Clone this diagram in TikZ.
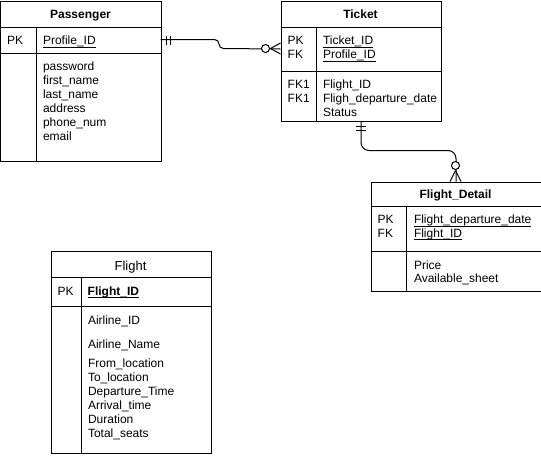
\documentclass[tikz,border=0pt]{standalone}
\usepackage{fontspec}
\setmainfont{Liberation Sans}
\usetikzlibrary{calc}
\newsavebox\ulbox
\newcommand\myul[1]{\sbox\ulbox{#1}\rlap{\usebox\ulbox}\vrule height -1.9pt depth 2.8pt width \wd\ulbox}
\begin{document}
\begin{tikzpicture}[x=1pt,y=-1pt,line width=1pt,
  box/.style={draw,inner sep=0pt,anchor=north west},
  txt/.style={anchor=base west,inner sep=0pt,font=\fontsize{12}{14}\selectfont},
  ttl/.style={anchor=base,inner sep=0pt,font=\fontsize{12}{14}\selectfont\bfseries},
  ttlplain/.style={anchor=base,inner sep=0pt,font=\fontsize{13}{15}\selectfont},
  conn/.style={draw,line width=1pt},
  tickline/.style={line width=1pt},
  ring/.style={draw,fill=white,line width=1pt}]
\useasboundingbox (-0.5,-0.5) rectangle (540.5,455.5);

% ---------- Passenger ----------
\node[box,minimum width=160pt,minimum height=160pt] (P) at (0,0) {};
\node[box,minimum width=160pt,minimum height=26pt] (Pkey) at (0,26) {};
\draw (36,26) -- (36,160);
\node[ttl] (Pt) at (80,18.3) {Passenger};
\node[txt] (Ppk) at (6,44.3) {PK};
\node[txt] (Pid) at (42,44.3) {\myul{Profile\_ID}};
\foreach \t [count=\i] in {password,first\_name,last\_name,address,phone\_num,email}
  \node[txt] (Pa\i) at (42,56+14*\i) {\t};

% ---------- Ticket ----------
\node[box,minimum width=160pt,minimum height=120pt] (T) at (280,0) {};
\node[box,minimum width=160pt,minimum height=44pt] (Tkey) at (280,26) {};
\draw (316,26) -- (316,120);
\node[ttl] (Tt) at (360,18.3) {Ticket};
\node[txt] (Tk1) at (286.7,44.3) {PK};
\node[txt] (Tk2) at (286.7,58.3) {FK};
\node[txt] (Tid1) at (322,44.3) {\myul{Ticket\_ID}};
\node[txt] (Tid2) at (322,58.3) {\myul{Profile\_ID}};
\node[txt] (Tf1) at (286.7,88) {FK1};
\node[txt] (Tf2) at (286.7,102) {FK1};
\node[txt] (Ta1) at (322,88) {Flight\_ID};
\node[txt] (Ta2) at (322,102) {Fligh\_departure\_date};
\node[txt] (Ta3) at (322,116) {Status};

% ---------- Flight_Detail ----------
\node[box,minimum width=170pt,minimum height=109pt] (FD) at (370,181) {};
\node[box,minimum width=170pt,minimum height=45pt] (FDkey) at (370,205) {};
\draw (406,205) -- (406,290);
\node[ttl] (FDt) at (455,198) {Flight\_Detail};
\node[txt] (FDk1) at (376.7,223.3) {PK};
\node[txt] (FDk2) at (376.7,237) {FK};
\node[txt] (FDi1) at (413,223.3) {\myul{Flight\_departure\_date}};
\node[txt] (FDi2) at (413,237) {\myul{Flight\_ID}};
\node[txt] (FDa1) at (413,269) {Price};
\node[txt] (FDa2) at (413,282) {Available\_sheet};

% ---------- Flight ----------
\node[box,minimum width=160pt,minimum height=202pt] (F) at (50,250) {};
\node[box,minimum width=160pt,minimum height=29pt] (Fkey) at (50,276) {};
\draw (81,276) -- (81,452);
\node[ttlplain] (Ft) at (130,269.5) {Flight};
\node[txt] (Fpk) at (56.7,295) {PK};
\node[txt] (Fid) at (86.7,295) {\bfseries\myul{Flight\_ID}};
\node[txt] (Fa1) at (87,324) {Airline\_ID};
\node[txt] (Fa2) at (87,348.3) {Airline\_Name};
\foreach \t [count=\i] in {From\_location,To\_location,Departure\_Time,Arrival\_time,Duration,Total\_seats}
  \node[txt] (Fb\i) at (87,353.3+14*\i) {\t};

% ---------- connectors ----------
\draw[conn,rounded corners=4.5pt] (160,39) coordinate (c1) -- (218.5,39) -- (218.5,48) -- (Tkey.west);
\draw[tickline] (166,35) -- (166,44) (170,35) -- (170,44);
\draw[tickline] (270,48) -- (280,42.5) (270,48) -- (280,53.5);
\draw[ring] (265,48) circle (4pt);

\draw[conn,rounded corners=8pt] (T.south) |- ($(FD.north)+(0,-31)$) -- (FD.north);
\draw[tickline] (355.5,126) -- (365.5,126) (355.5,130) -- (365.5,130);
\draw[tickline] (455,170) -- (449.5,181) (455,170) -- (460.5,181);
\draw[ring] (455,165) circle (4pt);
\end{tikzpicture}
\end{document}
